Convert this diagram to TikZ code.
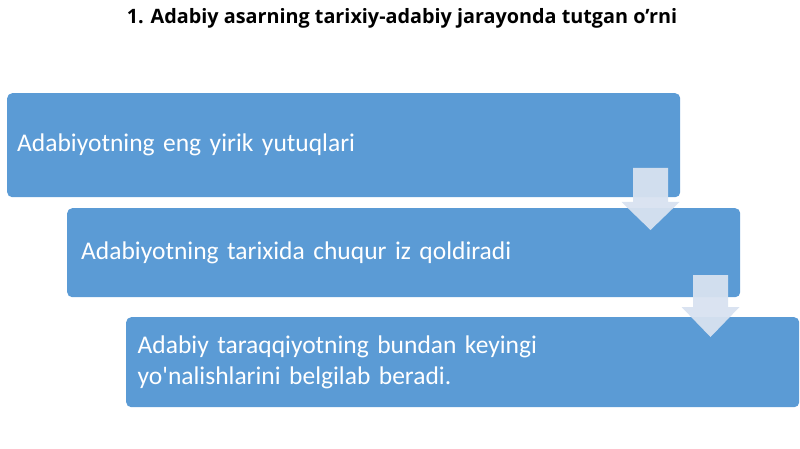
\documentclass[tikz,border=0pt]{standalone}
\usepackage{fontspec}
\newfontfamily\boxfont{Carlito}[WordSpace=0.75]
\newfontfamily\titlefont{Open Sans}
\definecolor{boxblue}{HTML}{5B9BD5}
\definecolor{arrowgrey}{HTML}{D8E2F0}

\begin{document}
\begin{tikzpicture}[x=1pt,y=-1pt]
\useasboundingbox (0,0) rectangle (800,449);

\node (T) at (402,18) {\titlefont\bfseries\fontsize{19.8}{23}\selectfont 1. Adabiy asarning tarixiy-adabiy jarayonda tutgan o’rni};

\begin{scope}[every node/.style={rectangle,rounded corners=5pt,fill=boxblue,text=white,
              anchor=north west,minimum width=673pt,align=left,
              font=\boxfont\fontsize{25.5}{31}\selectfont}]
    \node[minimum height=104pt,inner xsep=10pt,text width=653pt] (A) at (7,93) {Adabiyotning eng yirik yutuqlari};
    \node[minimum height=89pt,inner xsep=14pt,text width=645pt] (B) at (67,208) {Adabiyotning tarixida chuqur iz qoldiradi};
    \node[minimum height=90pt,inner xsep=11pt,text width=650pt] (C) at (126,317) {Adabiy taraqqiyotning bundan keyingi\\yo'nalishlarini belgilab beradi.};
\end{scope}

\begin{scope}[every path/.style={fill=arrowgrey,fill opacity=0.95}]
    \path (633,168) -- ++(35,0) -- ++(0,34) -- ++(11.5,0) -- ++(-29,28) -- ++(-29,-28) -- ++(11.5,0) -- cycle;
    \path (693,275) -- ++(35,0) -- ++(0,32) -- ++(11.5,0) -- ++(-29,30) -- ++(-29,-30) -- ++(11.5,0) -- cycle;
\end{scope}
\end{tikzpicture}
\end{document}
